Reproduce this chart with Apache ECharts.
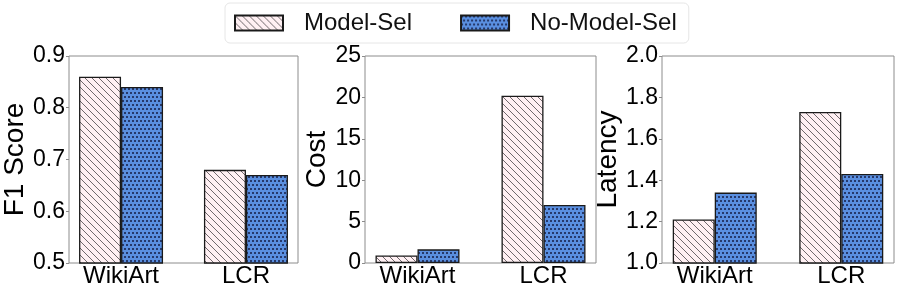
<!DOCTYPE html>
<html>
<head>
<meta charset="utf-8">
<script src="https://cdn.jsdelivr.net/npm/echarts@6/dist/echarts.min.js"></script>
<style>
html,body{margin:0;padding:0;background:#fff;}
#chart{width:897px;height:293px;}
</style>
</head>
<body>
<div id="chart"></div>
<script>
// ---- data ----
const categories = ['WikiArt', 'LCR'];
const seriesNames = ['Model-Sel', 'No-Model-Sel'];
const metricNames = ['F1 Score', 'Cost', 'Latency'];
const f1ModelSel = [0.86, 0.68];
const f1NoModelSel = [0.84, 0.67];
const costModelSel = [0.9, 20.2];
const costNoModelSel = [1.65, 7.0];
const latencyModelSel = [1.21, 1.73];
const latencyNoModelSel = [1.34, 1.43];
const yMins = [0.5, 0, 1.0];
const yMaxs = [0.9, 25, 2.0];
const yIntervals = [0.1, 5, 0.2];
const yDecimals = [1, 0, 1];

// ---- styles ----
function hatchPattern() {
  const c = document.createElement('canvas');
  c.width = 7; c.height = 7;
  const g = c.getContext('2d');
  g.fillStyle = '#fff0f3';
  g.fillRect(0, 0, 7, 7);
  g.strokeStyle = '#5f585c';
  g.lineWidth = 0.9;
  for (const k of [-7, 0, 7]) {
    g.beginPath(); g.moveTo(k - 1, -1); g.lineTo(k + 8, 8); g.stroke();
  }
  return c;
}
function dotPattern() {
  const c = document.createElement('canvas');
  c.width = 4; c.height = 8;
  const g = c.getContext('2d');
  g.fillStyle = '#5a8fe0';
  g.fillRect(0, 0, 4, 8);
  g.fillStyle = '#26396b';
  g.fillRect(0, 0, 2, 2);
  g.fillRect(2, 4, 2, 2);
  return c;
}
const fills = [
  { image: hatchPattern(), repeat: 'repeat' },
  { image: dotPattern(), repeat: 'repeat' }
];

const panelValues = [
  [f1ModelSel, f1NoModelSel],
  [costModelSel, costNoModelSel],
  [latencyModelSel, latencyNoModelSel]
];
const gridLefts = [67, 365, 662];
const gridWidths = [231, 231, 232];
const nameGaps = [40, 32, 39];
const barFrac = 1 / 3;
const xPad = 0.05 * (categories.length - 1 + 2 * barFrac);
const xMin = -barFrac - xPad;
const xMax = categories.length - 1 + barFrac + xPad;
const FONT = 'Liberation Sans, Arial, sans-serif';

const grids = [], xAxes = [], yAxes = [], series = [];
for (let i = 0; i < 3; i++) {
  grids.push({
    left: gridLefts[i], width: gridWidths[i], top: 56, height: 207,
    show: true, borderColor: '#8c8c8c', borderWidth: 1, containLabel: false
  });
  xAxes.push({
    type: 'value', gridIndex: i, min: xMin, max: xMax,
    axisLine: { show: false, onZero: false }, axisTick: { show: false }, splitLine: { show: false },
    axisLabel: {
      customValues: categories.map((c, k) => k),
      formatter: v => categories[Math.round(v)],
      fontSize: 24, color: '#000', fontFamily: FONT, margin: 1
    }
  });
  yAxes.push({
    type: 'value', gridIndex: i, min: yMins[i], max: yMaxs[i], interval: yIntervals[i],
    name: metricNames[i], nameLocation: 'middle', nameGap: nameGaps[i], nameRotate: 90,
    nameTextStyle: { fontSize: 28, color: '#000', fontFamily: FONT },
    axisLine: { show: false, onZero: false },
    axisTick: { show: true, inside: false, length: 3, lineStyle: { color: '#8c8c8c' } },
    splitLine: { show: false },
    axisLabel: {
      fontSize: 23, color: '#000', fontFamily: FONT, margin: 4,
      formatter: v => v.toFixed(yDecimals[i])
    }
  });
  for (let s = 0; s < 2; s++) {
    series.push({
      type: 'bar', name: seriesNames[s], xAxisIndex: i, yAxisIndex: i,
      barWidth: 42, barGap: '0%', clip: true,
      itemStyle: { color: fills[s], borderColor: '#1a1a1a', borderWidth: 1.3 },
      emphasis: { disabled: true },
      data: panelValues[i][s].map((v, k) => [k, v])
    });
  }
}

const chart = echarts.init(document.getElementById('chart'), null, { renderer: 'canvas' });
chart.setOption({
  animation: false,
  backgroundColor: '#fff',
  legend: {
    data: seriesNames, left: 225, top: 3,
    padding: [8, 12, 8, 9], itemGap: 48, itemWidth: 48, itemHeight: 15,
    icon: 'rect', borderColor: '#e6e6e6', borderWidth: 1, borderRadius: 5,
    textStyle: { fontSize: 24, color: '#111', fontFamily: FONT, padding: [0, 0, 0, 16] }
  },
  grid: grids, xAxis: xAxes, yAxis: yAxes, series: series
});
</script>
</body>
</html>
